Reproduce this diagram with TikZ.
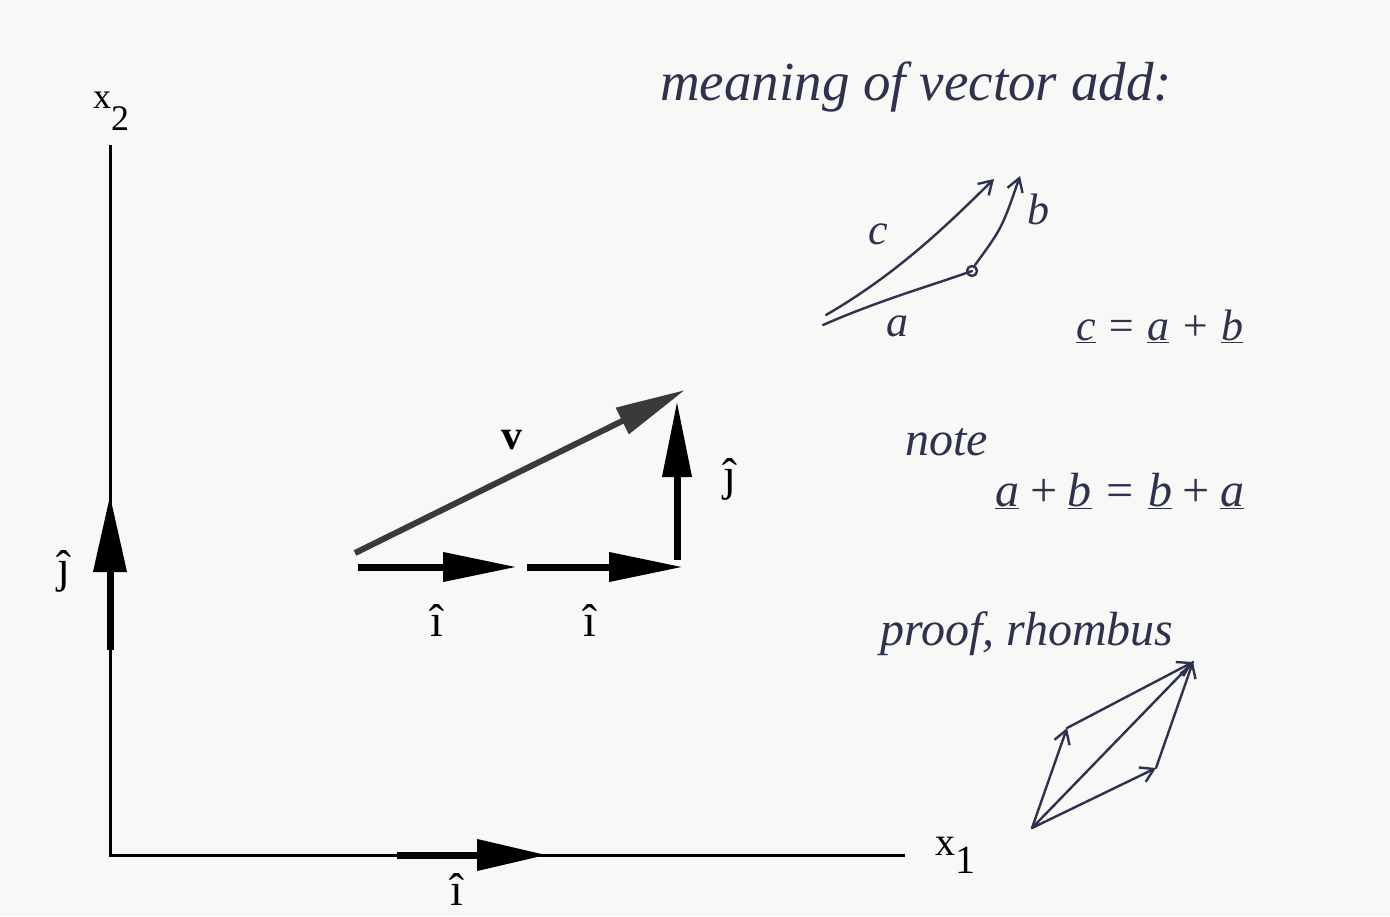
\documentclass[tikz,border=0pt]{standalone}
\usepackage{fontspec}
\setmainfont{Liberation Serif}
\usetikzlibrary{arrows.meta,positioning}
\definecolor{pen}{RGB}{46,50,78}
\definecolor{paper}{RGB}{248,248,247}
\definecolor{vgray}{RGB}{58,58,60}

\begin{document}
\begin{tikzpicture}[x=1pt, y=-1pt,
    axis/.style={line width=3pt, black},
    unitvec/.style={line width=7pt, -{Triangle[length=70pt,width=30pt]}},
    sumvec/.style={line width=6pt, vgray, -{Triangle[length=70pt,width=28pt]}},
    lbl/.style={font=\fontsize{46}{50}\selectfont, inner sep=0pt},
    ink/.style={pen, line width=2.4pt, line cap=round, line join=round},
    penarrow/.style={-{Straight Barb[length=13pt,width=16pt]}},
    hand/.style={pen, font=\fontsize{#1}{#1}\selectfont\itshape, inner sep=0pt, anchor=base west},
    hand/.default=48]

    % page
    \fill[paper] (0,0) rectangle (1390,916);
    \useasboundingbox (0,0) rectangle (1390,916);

    % axes
    \coordinate (O) at (110,855);
    \coordinate (ytop) at (110,145);
    \coordinate (xend) at (905,855);
    \draw[axis] (ytop) -- (O) -- (xend);
    \node[lbl, font=\fontsize{36}{40}\selectfont, anchor=base west] (x2) at (93,108) {x\raisebox{-22pt}{2}};
    \node[lbl, font=\fontsize{40}{44}\selectfont, anchor=base west] (x1) at (935,855) {x\raisebox{-18pt}{1}};

    % unit vectors on the axes
    \coordinate (ja) at (110,650);
    \coordinate (jb) at (110,495);
    \draw[unitvec, -{Triangle[length=77pt,width=32pt]}] (ja) -- (jb);
    \node[lbl, anchor=base] (jax) at (64,582) {\^{\j}};
    \coordinate (ia) at (397,855);
    \coordinate (ib) at (547,855);
    \draw[unitvec] (ia) -- (ib);
    \node[lbl, anchor=base] (iax) at (457,905) {\^{\i}};

    % v = i + i + j
    \coordinate (p0) at (358,567);
    \coordinate (p1) at (517,567);
    \coordinate (p2) at (527,567);
    \coordinate (p3) at (683,567);
    \coordinate (q3) at (677,560);
    \coordinate (p4) at (677,401);
    \draw[unitvec, -{Triangle[length=74pt,width=28pt]}] (p0) -- (p1);
    \draw[unitvec, -{Triangle[length=74pt,width=28pt]}] (p2) -- (p3);
    \draw[unitvec, -{Triangle[length=76pt,width=28pt]}] (q3) -- (p4);
    \coordinate (v0) at (355,553);
    \coordinate (v1) at (685,390);
    \draw[sumvec] (v0) -- (v1);
    \node[lbl, font=\fontsize{42}{46}\selectfont\bfseries] (vlab) at (512,440) {v};
    \node[lbl, anchor=base] (i1) at (437,636) {\^{\i}};
    \node[lbl, anchor=base] (i2) at (590,636) {\^{\i}};
    \node[lbl, anchor=base] (j1) at (730,490) {\^{\j}};

    % handwritten notes
    \node[hand=55] (title) at (660,100) {meaning of vector add:};

    % triangle sketch
    \coordinate (ta) at (823,325);
    \coordinate (tm) at (972,271);
    \coordinate (tb) at (1020,176);
    \coordinate (tc0) at (826,315);
    \coordinate (tc) at (994,179);
    \draw[ink] (ta) .. controls (880,300) and (930,286) .. (tm);
    \draw[ink] (tm) circle[radius=5pt];
    \draw[ink, penarrow] (975,265) .. controls (1002,228) .. (tb);
    \draw[ink, penarrow] (tc0) .. controls (900,272) and (950,222) .. (tc);
    \node[hand=44] (lc) at (868,244) {c};
    \node[hand=44] (lb) at (1027,224) {b};
    \node[hand=44] (la) at (886,336) {a};
    \node[hand=44] (ceq) at (1076,340) {\underline{c} = \underline{a} + \underline{b}};

    \node[hand] (note) at (905,455) {note};
    \node[hand] (comm) at (995,506) {\underline{a}\,+\,\underline{b} = \underline{b}\,+\,\underline{a}};
    \node[hand] (proof) at (880,645) {proof, rhombus};

    % rhombus sketch
    \coordinate (r0) at (1032,828);
    \coordinate (rl) at (1067,728);
    \coordinate (rr) at (1156,768);
    \coordinate (rt) at (1193,662);
    \draw[ink, penarrow] (r0) -- (rl);
    \draw[ink, penarrow] (rl) -- (rt);
    \draw[ink, penarrow] (r0) -- (rr);
    \draw[ink, penarrow] (rr) -- (rt);
    \draw[ink] (r0) -- (rt);
\end{tikzpicture}
\end{document}
